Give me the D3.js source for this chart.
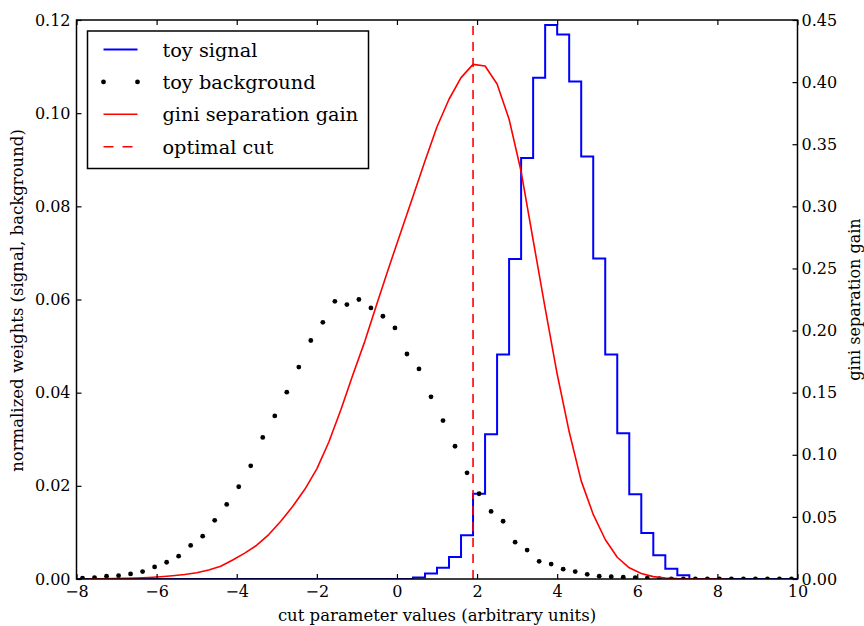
<!DOCTYPE html>
<html>
<head>
<meta charset="utf-8">
<script src="https://cdn.jsdelivr.net/npm/d3@7"></script>
<style>
  html, body { margin: 0; padding: 0; background: #fff; }
  svg { display: block; }
</style>
</head>
<body>
<svg id="chart" width="864" height="626"></svg>
<script>
// ---- data ----
// histogram binning of the cut parameter
const binStart = -8;
const binWidth = 0.3;
const binCount = 60;

// normalized signal weights per bin (left edge = binStart + k * binWidth)
const signal = [
  0, 0, 0, 0, 0, 0, 0, 0, 0, 0,
  0, 0, 0, 0, 0, 0, 0, 0, 0, 0,
  0, 0, 0, 0, 0, 0, 0, 0,
  0.0003, 0.0012, 0.0024, 0.0047, 0.0094, 0.0183, 0.0311, 0.0482, 0.0687, 0.0904,
  0.1076, 0.1189, 0.1169, 0.1068, 0.0907, 0.0688, 0.0482, 0.0313, 0.0182, 0.0099,
  0.0051, 0.0022, 0.0008,
  0, 0, 0, 0, 0, 0, 0, 0, 0
];

// normalized background weights per bin (drawn at bin centres)
const background = [
  0.0002, 0.0003, 0.0006, 0.0007, 0.0011, 0.0016, 0.0026, 0.0036, 0.0049, 0.0072,
  0.0092, 0.0126, 0.0160, 0.0198, 0.0243, 0.0304, 0.0350, 0.0401, 0.0455, 0.0512,
  0.0551, 0.0596, 0.0589, 0.0600, 0.0582, 0.0564, 0.0539, 0.0483, 0.0451, 0.0391,
  0.0340, 0.0285, 0.0228, 0.0183, 0.0145, 0.0124, 0.0079, 0.0062, 0.0038, 0.0032,
  0.0021, 0.0016, 0.0010, 0.0006, 0.0005, 0.0004, 0.0003, 0.0002, 0.0001,
  0, 0, 0, 0, 0, 0, 0, 0, 0, 0, 0
];

// gini separation gain evaluated at the bin edges -7.7 ... 8.2
const giniFirstEdge = 1;
const giniGain = [
  0.0001, 0.0002, 0.0003, 0.0005, 0.0008, 0.0012, 0.0018, 0.0026, 0.0036, 0.0050,
  0.0072, 0.0102, 0.0153, 0.0208, 0.0272, 0.0358, 0.0465, 0.0585, 0.0722, 0.0887,
  0.1103, 0.1363, 0.1644, 0.1915, 0.2215, 0.2510, 0.2795, 0.3080, 0.3365, 0.3641,
  0.3862, 0.4036, 0.4143, 0.4130, 0.3985, 0.3701, 0.3280, 0.2729, 0.2180, 0.1650,
  0.1185, 0.0790, 0.0520, 0.0318, 0.0175, 0.0090, 0.0045, 0.0019, 0.0008, 0.0003,
  0.0001, 0, 0, 0
];

const xTicks = [-8, -6, -4, -2, 0, 2, 4, 6, 8, 10];
const yTicksLeft = [0, 0.02, 0.04, 0.06, 0.08, 0.10, 0.12];
const yTicksRight = [0, 0.05, 0.10, 0.15, 0.20, 0.25, 0.30, 0.35, 0.40, 0.45];
const legendLabels = ["toy signal", "toy background", "gini separation gain", "optimal cut"];
const xLabel = "cut parameter values (arbitrary units)";
const yLabelLeft = "normalized weights (signal, background)";
const yLabelRight = "gini separation gain";

// ---- layout ----
const plot = { left: 76.5, right: 797.5, top: 20, bottom: 579 };
const serif = "'DejaVu Serif', 'Liberation Serif', serif";
const tickFont = 16;
const labelFont = 16.5;

const svg = d3.select("#chart");

const x = d3.scaleLinear().domain([-8, 10]).range([plot.left, plot.right]);
const yL = d3.scaleLinear().domain([0, 0.12]).range([plot.bottom, plot.top]);
const yR = d3.scaleLinear().domain([0, 0.45]).range([plot.bottom, plot.top]);

const edge = k => +(binStart + k * binWidth).toFixed(4);
const centre = k => edge(k) + binWidth / 2;

svg.append("defs").append("clipPath").attr("id", "plotClip")
  .append("rect")
  .attr("x", plot.left).attr("y", plot.top)
  .attr("width", plot.right - plot.left).attr("height", plot.bottom - plot.top);

const layer = svg.append("g").attr("clip-path", "url(#plotClip)");

// signal histogram (step outline)
const stepPts = [[edge(0), 0]];
signal.forEach((v, k) => stepPts.push([edge(k), v]));
stepPts.push([edge(binCount), signal[binCount - 1]]);
stepPts.push([edge(binCount), 0]);
const stepLine = d3.line()
  .x(d => x(d[0])).y(d => yL(d[1]))
  .curve(d3.curveStepAfter);
layer.append("path")
  .attr("d", stepLine(stepPts))
  .attr("fill", "none")
  .attr("stroke", "#0000ff")
  .attr("stroke-width", 2);

// background markers
layer.selectAll("circle.bkg")
  .data(background)
  .join("circle")
  .attr("class", "bkg")
  .attr("cx", (d, k) => x(centre(k)))
  .attr("cy", d => yL(d))
  .attr("r", 2.4)
  .attr("fill", "#000");

// gini separation gain on the right-hand scale
const giniPts = giniGain.map((g, i) => [edge(giniFirstEdge + i), g]);
layer.append("path")
  .attr("d", d3.line().x(d => x(d[0])).y(d => yR(d[1]))(giniPts))
  .attr("fill", "none")
  .attr("stroke", "#ff0000")
  .attr("stroke-width", 1.6)
  .attr("stroke-linejoin", "round");

// optimal cut: position of maximal gini gain
const optimalCut = giniPts[d3.maxIndex(giniPts, d => d[1])][0];
layer.append("line")
  .attr("x1", x(optimalCut)).attr("x2", x(optimalCut))
  .attr("y1", plot.bottom).attr("y2", plot.top)
  .attr("stroke", "#ff0000")
  .attr("stroke-width", 1.6)
  .attr("stroke-dasharray", "9,7");

// ---- axes ----
function styleAxis(g) {
  g.select(".domain").remove();
  g.selectAll(".tick line").attr("stroke", "#000").attr("stroke-width", 1.2);
  g.selectAll(".tick text")
    .attr("fill", "#000")
    .attr("font-family", serif)
    .attr("font-size", tickFont);
}

svg.append("g")
  .attr("transform", `translate(0,${plot.bottom})`)
  .call(d3.axisBottom(x).tickValues(xTicks).tickSize(-5).tickPadding(7)
    .tickFormat(d3.format("d")))
  .call(styleAxis);

svg.append("g")
  .attr("transform", `translate(0,${plot.top})`)
  .call(d3.axisTop(x).tickValues(xTicks).tickSize(-5).tickFormat(""))
  .call(styleAxis);

svg.append("g")
  .attr("transform", `translate(${plot.left},0)`)
  .call(d3.axisLeft(yL).tickValues(yTicksLeft).tickSize(-5).tickPadding(6)
    .tickFormat(d3.format(".2f")))
  .call(styleAxis);

svg.append("g")
  .attr("transform", `translate(${plot.right},0)`)
  .call(d3.axisRight(yR).tickValues(yTicksRight).tickSize(-5).tickPadding(4)
    .tickFormat(d3.format(".2f")))
  .call(styleAxis);

// frame
svg.append("rect")
  .attr("x", plot.left).attr("y", plot.top)
  .attr("width", plot.right - plot.left).attr("height", plot.bottom - plot.top)
  .attr("fill", "none").attr("stroke", "#000").attr("stroke-width", 1.5);

// axis titles
svg.append("text")
  .attr("x", (plot.left + plot.right) / 2).attr("y", 621)
  .attr("text-anchor", "middle")
  .attr("font-family", serif).attr("font-size", labelFont)
  .text(xLabel);

svg.append("text")
  .attr("transform", `translate(23,${(plot.top + plot.bottom) / 2 + 1}) rotate(-90)`)
  .attr("text-anchor", "middle")
  .attr("font-family", serif).attr("font-size", labelFont)
  .text(yLabelLeft);

svg.append("text")
  .attr("transform", `translate(859.5,${(plot.top + plot.bottom) / 2}) rotate(-90)`)
  .attr("text-anchor", "middle")
  .attr("font-family", serif).attr("font-size", tickFont)
  .text(yLabelRight);

// ---- legend ----
const legend = svg.append("g");
legend.append("rect")
  .attr("x", 87.5).attr("y", 31)
  .attr("width", 281).attr("height", 137.5)
  .attr("fill", "#fff").attr("stroke", "#000").attr("stroke-width", 1.5);

const rowY = i => 49.5 + 32.4 * i;
const sx0 = 103.5, sx1 = 137.5;

legend.append("line")
  .attr("x1", sx0).attr("x2", sx1).attr("y1", rowY(0)).attr("y2", rowY(0))
  .attr("stroke", "#0000ff").attr("stroke-width", 2);
legend.selectAll("circle.lg")
  .data([sx0, sx1]).join("circle")
  .attr("class", "lg")
  .attr("cx", d => d).attr("cy", rowY(1)).attr("r", 2.4).attr("fill", "#000");
legend.append("line")
  .attr("x1", sx0).attr("x2", sx1).attr("y1", rowY(2)).attr("y2", rowY(2))
  .attr("stroke", "#ff0000").attr("stroke-width", 1.6);
legend.append("line")
  .attr("x1", sx0).attr("x2", sx1).attr("y1", rowY(3)).attr("y2", rowY(3))
  .attr("stroke", "#ff0000").attr("stroke-width", 1.6)
  .attr("stroke-dasharray", "10,9");

legend.selectAll("text.lg")
  .data(legendLabels).join("text")
  .attr("class", "lg")
  .attr("x", 162.5)
  .attr("y", (d, i) => rowY(i) + 7)
  .attr("font-family", serif).attr("font-size", 19.3)
  .attr("fill", "#000")
  .text(d => d);
</script>
</body>
</html>
